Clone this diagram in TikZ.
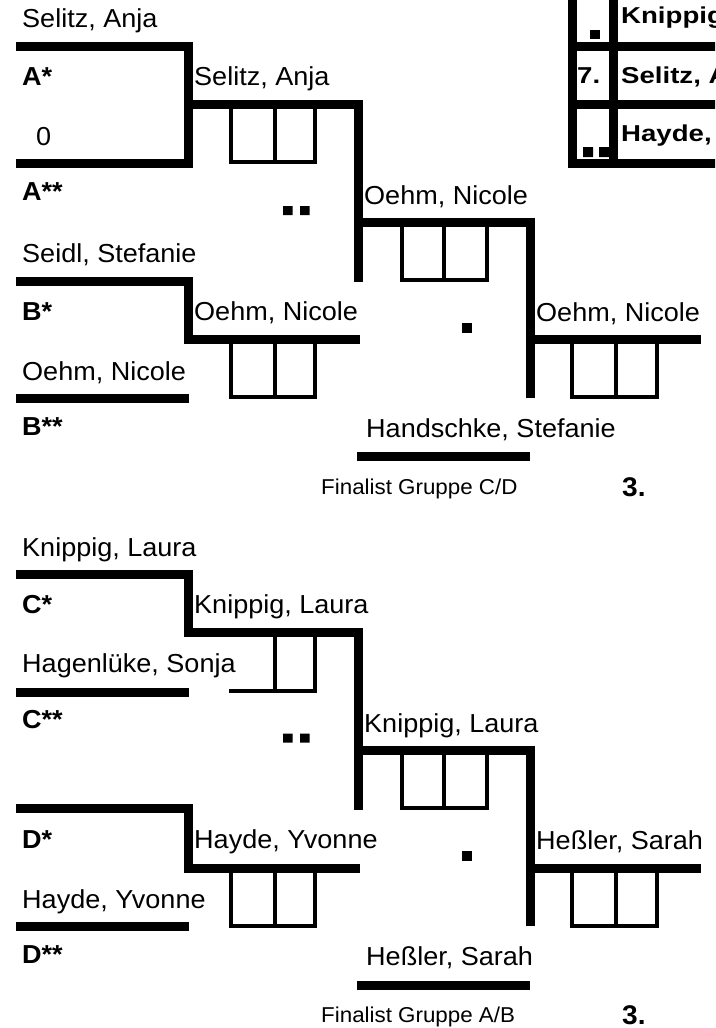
\documentclass[tikz,border=0pt]{standalone}
\usepackage{fontspec}
\setmainfont[FakeStretch=1.04]{Liberation Sans}
\newfontfamily\tabfont[FakeStretch=1.2]{Liberation Sans}
\begin{document}
\begin{tikzpicture}[x=1pt,y=-1pt,
  bar/.style={line width=9pt,line join=miter},
  box/.style={line width=4pt,line join=miter},
  nm/.style={anchor=base west,inner sep=0pt,font=\fontsize{26}{30}\selectfont},
  bl/.style={anchor=base west,inner sep=0pt,font=\fontsize{26}{30}\selectfont\bfseries},
  tb/.style={anchor=base west,inner sep=0pt,font=\tabfont\fontsize{23}{28}\selectfont\bfseries},
  fin/.style={anchor=base west,inner sep=0pt,font=\fontsize{21.5}{25}\selectfont},
  thr/.style={anchor=base west,inner sep=0pt,font=\fontsize{27}{30}\selectfont\bfseries},
  sq/.style={fill=black}]
\clip (0,0) rectangle (715,1028);

% ---------------- upper bracket ----------------
\draw[bar] (16,46.5) -- (188,46.5) -- (188,163.5) -- (16,163.5);
\draw[bar] (188,104.5) -- (358,104.5) -- (358,282);
\draw[bar] (16,281) -- (188,281) -- (188,339.5) -- (360,339.5);
\draw[bar] (16,398) -- (189,398);
\draw[bar] (358,222) -- (530,222) -- (530,398);
\draw[bar] (530,339.5) -- (701,339.5);
\draw[bar] (357,456.5) -- (530,456.5);

\draw[box] (231,104.5) -- (231,162) -- (315,162) -- (315,104.5) (275,104.5) -- (275,162);
\draw[box] (231,339.5) -- (231,397) -- (315,397) -- (315,339.5) (275,339.5) -- (275,397);
\draw[box] (402,222) -- (402,280) -- (487,280) -- (487,222) (444,222) -- (444,280);
\draw[box] (572,339.5) -- (572,397) -- (657,397) -- (657,339.5) (616,339.5) -- (616,397);

\fill[sq] (283,206) rectangle (292.5,215) (300,206) rectangle (309.5,215);
\fill[sq] (462,323) rectangle (472,333);

\node[nm] (a0) at (22,27) {Selitz, Anja};
\node[bl] (as) at (22,85) {A*};
\node[nm] (a2) at (194,85) {Selitz, Anja};
\node[nm] (az) at (36,145) {0};
\node[bl] (ass) at (22,200) {A**};
\node[nm] (r3u) at (364,204) {Oehm, Nicole};
\node[nm] (b0) at (22,262) {Seidl, Stefanie};
\node[bl] (bs) at (22,320) {B*};
\node[nm] (b2) at (194,320) {Oehm, Nicole};
\node[nm] (r4u) at (536,321) {Oehm, Nicole};
\node[nm] (b1) at (22,380) {Oehm, Nicole};
\node[bl] (bss) at (22,435) {B**};
\node[nm] (hu) at (366,437) {Handschke, Stefanie};
\node[fin] (fu) at (321,494) {Finalist Gruppe C/D};
\node[thr] (tu) at (622,496) {3.};

% ---------------- table top right ----------------
\draw[bar] (572,-5) -- (572,163) -- (720,163);
\draw[bar] (613,-5) -- (613,163);
\draw[bar] (568,46) -- (720,46);
\draw[bar] (568,104.5) -- (720,104.5);
\fill[sq] (590,30) rectangle (600,39);
\fill[sq] (583,147) rectangle (593,157) (599,147) rectangle (609,157);
\node[tb] (t1) at (621,23) {Knippig, Laura};
\node[tb] (t2n) at (577,83) {7.};
\node[tb] (t2) at (621,83) {Selitz, Anja};
\node[tb] (t3) at (621,141) {Hayde, Yvonne};

% ---------------- lower bracket ----------------
\draw[bar] (16,574) -- (188,574) -- (188,632.5) -- (358,632.5) -- (358,810);
\draw[bar] (16,692) -- (189,692);
\draw[bar] (16,808.5) -- (188,808.5) -- (188,868) -- (360,868);
\draw[bar] (16,926) -- (189,926);
\draw[bar] (358,750) -- (530,750) -- (530,926);
\draw[bar] (530,868) -- (701,868);
\draw[bar] (357,985) -- (530,985);

\draw[box] (229,690.5) -- (315,690.5) -- (315,632.5) (275,632.5) -- (275,690.5);
\draw[box] (231,868) -- (231,925.5) -- (315,925.5) -- (315,868) (275,868) -- (275,925.5);
\draw[box] (402,750) -- (402,808) -- (487,808) -- (487,750) (444,750) -- (444,808);
\draw[box] (572,868) -- (572,925.5) -- (657,925.5) -- (657,868) (616,868) -- (616,925.5);

\fill[sq] (283,733.5) rectangle (292.5,742.5) (300,733.5) rectangle (309.5,742.5);
\fill[sq] (462,851) rectangle (472,861);

\node[nm] (c0) at (22,556) {Knippig, Laura};
\node[bl] (cs) at (22,613) {C*};
\node[nm] (c2) at (194,613) {Knippig, Laura};
\node[nm] (c1) at (22,672) {Hagenlüke, Sonja};
\node[bl] (css) at (22,728) {C**};
\node[nm] (r3l) at (364,732) {Knippig, Laura};
\node[bl] (ds) at (22,848) {D*};
\node[nm] (d2) at (194,848) {Hayde, Yvonne};
\node[nm] (r4l) at (536,849) {Heßler, Sarah};
\node[nm] (d1) at (22,908) {Hayde, Yvonne};
\node[bl] (dss) at (22,963) {D**};
\node[nm] (hl) at (366,965) {Heßler, Sarah};
\node[fin] (fl) at (321,1022) {Finalist Gruppe A/B};
\node[thr] (tl) at (622,1024) {3.};
\end{tikzpicture}
\end{document}
